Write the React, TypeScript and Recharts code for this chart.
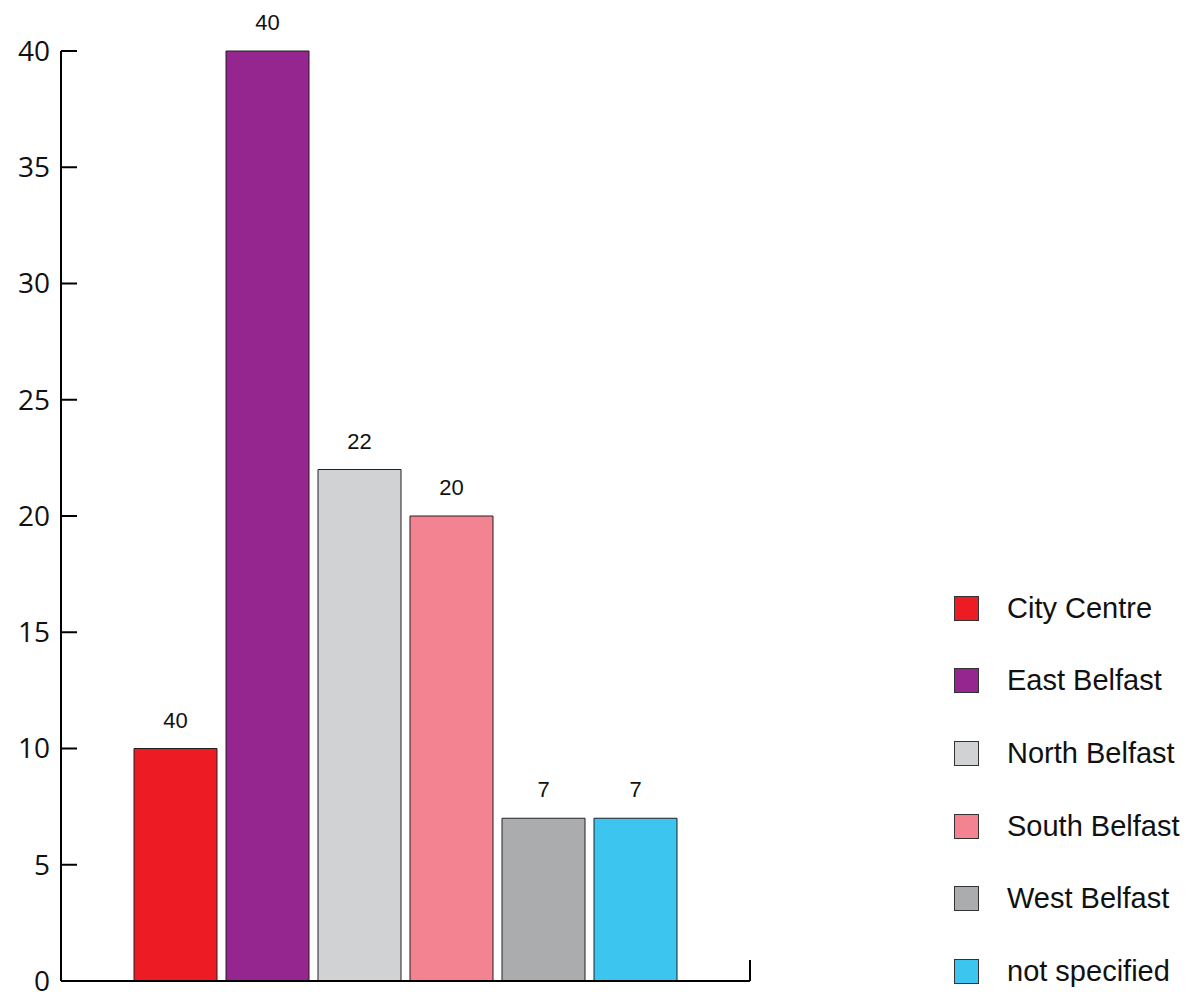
import React from 'react';
import { BarChart, Bar, XAxis, YAxis, Legend, LabelList, ReferenceLine } from 'recharts';

const seriesNames = ['City Centre', 'East Belfast', 'North Belfast', 'South Belfast', 'West Belfast', 'not specified'];
const seriesValues = [10, 40, 22, 20, 7, 7];
const valueLabels = ['40', '40', '22', '20', '7', '7'];
const seriesColors = ['#ED1C24', '#952690', '#D1D2D4', '#F48391', '#ABACAE', '#3CC5EE'];
const yTicks = [0, 5, 10, 15, 20, 25, 30, 35, 40];
const categories = ['Belfast'];

const row: Record<string, any> = { name: categories[0] };
seriesNames.forEach((_, i) => {
  row[`v${i}`] = seriesValues[i];
  row[`l${i}`] = valueLabels[i];
});
const data = [row];

const renderLegend = (props: any) => {
  const payload = props.payload || [];
  return (
    <div>
      {payload.map((p: any, i: number) => (
        <div key={i} style={{ display: 'flex', alignItems: 'center', height: 72.6 }}>
          <div
            style={{
              width: 25,
              height: 25,
              background: p.color,
              border: '1.5px solid #333',
              boxSizing: 'border-box',
              flex: '0 0 auto',
            }}
          />
          <span
            style={{
              marginLeft: 28,
              fontFamily: '"Liberation Sans", Arial, sans-serif',
              fontSize: 29,
              color: '#111',
              whiteSpace: 'nowrap',
            }}
          >
            {p.value}
          </span>
        </div>
      ))}
    </div>
  );
};

export default function App() {
  return (
    <div style={{ position: 'absolute', left: 0, top: 0, width: 1185, height: 993, background: '#fff' }}>
      <BarChart
        width={1185}
        height={993}
        data={data}
        margin={{ top: 51, right: 435, bottom: 11, left: 0 }}
        barSize={83}
        barGap={9}
        barCategoryGap={73}
      >
        <XAxis
          xAxisId="cat"
          dataKey="name"
          height={1}
          tick={false}
          tickLine={false}
          axisLine={{ stroke: '#000', strokeWidth: 2 }}
        />
        <YAxis
          width={61}
          domain={[0, 40]}
          ticks={yTicks}
          interval={0}
          tickSize={-16}
          tickMargin={27}
          tickLine={{ stroke: '#000', strokeWidth: 2 }}
          axisLine={{ stroke: '#000', strokeWidth: 2 }}
          tick={{ fill: '#111', fontSize: 28, fontFamily: '"Open Sans", sans-serif' }}
        />
        <Legend
          layout="vertical"
          align="center"
          verticalAlign="middle"
          content={renderLegend}
          wrapperStyle={{ position: 'absolute', left: 954, top: 572, width: 231 }}
        />
        {seriesNames.map((n, i) => (
          <Bar
            key={n}
            xAxisId="cat"
            dataKey={`v${i}`}
            name={n}
            fill={seriesColors[i]}
            stroke="#231F20"
            strokeWidth={1}
            isAnimationActive={false}
          >
            <LabelList
              dataKey={`l${i}`}
              position="top"
              offset={21}
              fill="#111"
              fontSize={22}
              fontFamily='"Liberation Sans", Arial, sans-serif'
            />
          </Bar>
        ))}
        <ReferenceLine
          xAxisId="cat"
          position="end"
          segment={[
            { x: categories[0], y: 0 },
            { x: categories[0], y: 0.9 },
          ]}
          stroke="#000"
          strokeWidth={2}
          ifOverflow="visible"
        />
      </BarChart>
    </div>
  );
}
